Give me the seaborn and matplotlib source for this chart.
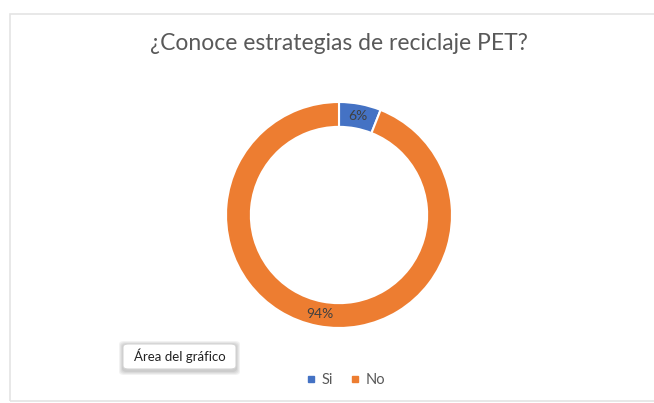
import matplotlib
matplotlib.use("Agg")
import matplotlib.pyplot as plt
from matplotlib.patches import Rectangle, FancyBboxPatch
from matplotlib.lines import Line2D
import numpy as np
import seaborn as sns

# Survey answers
categories = ["Si", "No"]
shares = [6, 94]
title = "¿Conoce estrategias de reciclaje PET?"

sns.set_theme(style="white")
plt.rcParams["font.family"] = ["Lato", "DejaVu Sans"]

colors = sns.color_palette(["#4472C4", "#ED7D31"])

W, H = 654, 403
fig = plt.figure(figsize=(W / 100, H / 100), dpi=100)
fig.patch.set_facecolor("white")

# Chart-area frame (runs off the right edge)
fig.patches.append(Rectangle((10 / W, 2 / H), 1.2, (H - 16) / H, transform=fig.transFigure,
                             fill=False, ec="#e4e4e4", lw=1.2, zorder=0))

# Doughnut axes: centre (339, 215) px, outer radius 113 px
cx, cy, r = 339, 215, 113
ax = fig.add_axes([(cx - r) / W, (H - cy - r) / H, 2 * r / W, 2 * r / H])
wedges, _ = ax.pie(shares, colors=colors, startangle=90, counterclock=False,
                   radius=1.0, wedgeprops=dict(width=0.22, edgecolor="white", linewidth=1.5))
ax.set_xlim(-1, 1)
ax.set_ylim(-1, 1)
ax.set_aspect("equal")
ax.axis("off")

# Percentage labels at the middle of the ring
start = 90.0
total = sum(shares)
for val in shares:
    sweep = 360.0 * val / total
    mid = np.deg2rad(start - sweep / 2)
    rr = 1.0 - 0.11
    ax.text(rr * np.cos(mid), rr * np.sin(mid), f"{val}%", ha="center", va="center",
            fontsize=10, color="#404040")
    start -= sweep

fig.text(cx / W, 1 - 44 / H, title, ha="center", va="center", fontsize=16.5, color="#595959")

# Legend below the doughnut
handles = [Line2D([0], [0], marker="s", linestyle="none", markersize=4.5,
                  markerfacecolor=c, markeredgecolor=c) for c in colors]
fig.legend(handles, categories, loc="center", bbox_to_anchor=(346 / W, 1 - 380 / H),
           ncol=2, frameon=False, fontsize=10.5, handlelength=0.6, handletextpad=0.4,
           columnspacing=1.2, labelcolor="#595959")

# Hover tooltip with a soft drop shadow
for i, a in enumerate([0.05, 0.05, 0.05, 0.06]):
    g = 4 - i
    fig.patches.append(FancyBboxPatch(((123 - g) / W, (H - 371 - g) / H), (113 + 2 * g) / W,
                                      (26 + 2 * g) / H, boxstyle="round,pad=0,rounding_size=0.008",
                                      transform=fig.transFigure, fc="black", ec="none",
                                      alpha=a, zorder=1))
fig.patches.append(FancyBboxPatch((123 / W, (H - 369) / H), 113 / W, 25 / H,
                                  boxstyle="round,pad=0,rounding_size=0.008",
                                  transform=fig.transFigure, fc="white", ec="#d4d4d4",
                                  lw=0.8, zorder=2))
fig.text(179.5 / W, 1 - 356 / H, "Área del gráfico", ha="center", va="center", fontsize=9.5,
         color="#222222", zorder=3)

fig.savefig("out.png", dpi=100, facecolor="white")
